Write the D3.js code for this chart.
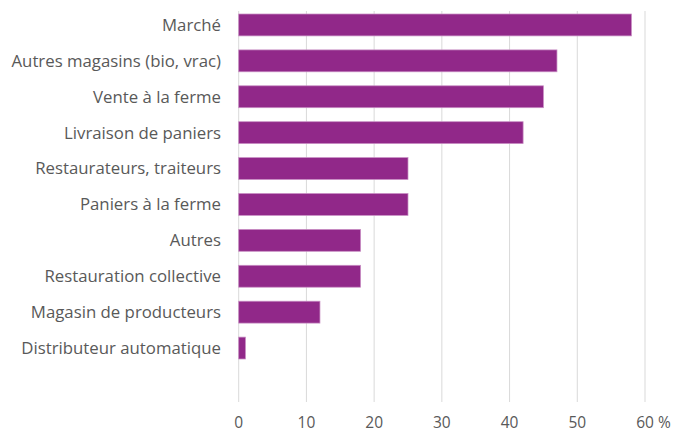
<!DOCTYPE html>
<html>
<head>
<meta charset="utf-8">
<script src="https://cdn.jsdelivr.net/npm/d3@7"></script>
<style>
  body { margin: 0; background: #fff; }
  .chart-svg text { font-family: "Open Sans", sans-serif; fill: #595959; }
</style>
</head>
<body>
<div id="chart"></div>
<script>
const categories = [
  'Marché',
  'Autres magasins (bio, vrac)',
  'Vente à la ferme',
  'Livraison de paniers',
  'Restaurateurs, traiteurs',
  'Paniers à la ferme',
  'Autres ',
  'Restauration collective',
  'Magasin de producteurs',
  'Distributeur automatique',
];
const values = [58, 47, 45, 42, 25, 25, 18, 18, 12, 1];
const xTicks = [0, 10, 20, 30, 40, 50, 60];

const width = 673;
const height = 432;
const plot = { left: 238.7, right: 645, top: 11, bottom: 402 };

const svg = d3.select('#chart').append('svg')
  .attr('class', 'chart-svg')
  .attr('width', width)
  .attr('height', height);

const x = d3.scaleLinear().domain([0, 60]).range([plot.left, plot.right]);
const y = d3.scaleBand()
  .domain(categories)
  .range([7, 7 + 35.9 * categories.length])
  .paddingInner(0.39)
  .paddingOuter(0.195);

// vertical gridlines
svg.append('g').attr('class', 'grid')
  .selectAll('line')
  .data(xTicks)
  .join('line')
  .attr('x1', d => x(d))
  .attr('x2', d => x(d))
  .attr('y1', plot.top)
  .attr('y2', plot.bottom)
  .attr('stroke', '#d9d9d9')
  .attr('stroke-width', 1);

// bars
svg.append('g').attr('class', 'bars')
  .selectAll('rect')
  .data(values)
  .join('rect')
  .attr('x', x(0))
  .attr('y', (d, i) => y(categories[i]))
  .attr('width', d => x(d) - x(0))
  .attr('height', y.bandwidth())
  .attr('fill', '#912889')
  .attr('stroke', '#c98fc4')
  .attr('stroke-width', 0.75);

// category labels
svg.append('g').attr('class', 'y-labels')
  .selectAll('text')
  .data(categories)
  .join('text')
  .attr('x', 221)
  .attr('y', d => y(d) + y.bandwidth() / 2)
  .attr('dy', '0.35em')
  .attr('text-anchor', 'end')
  .style('font-size', '16.8px')
  .text(d => d);

// x tick labels
const xl = svg.append('g').attr('class', 'x-labels')
  .selectAll('text')
  .data(xTicks)
  .join('text')
  .attr('x', d => x(d))
  .attr('y', 428)
  .attr('text-anchor', 'middle')
  .style('font-size', '15.5px')
  .text(d => d);

xl.filter(d => d === 60)
  .attr('text-anchor', 'start')
  .attr('x', function (d) {
    const w = this.getComputedTextLength();
    return x(d) - w / 2;
  })
  .append('tspan').text(' %');
</script>
</body>
</html>
